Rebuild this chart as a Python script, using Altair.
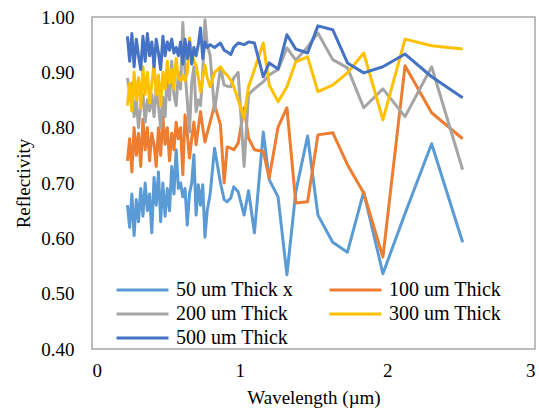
import altair as alt
import pandas as pd

wavelength = [0.24, 0.255, 0.27, 0.285, 0.30, 0.315, 0.33, 0.345, 0.36, 0.375, 0.39, 0.405, 0.42,
              0.435, 0.45, 0.465, 0.48, 0.495, 0.51, 0.525, 0.54, 0.555, 0.57, 0.585, 0.60, 0.615,
              0.63, 0.645, 0.66, 0.675, 0.69, 0.705, 0.72, 0.735, 0.75, 0.765, 0.78,
              0.80, 0.83, 0.87, 0.895, 0.915,
              0.94, 0.96, 0.99, 1.03, 1.06, 1.10, 1.16, 1.20, 1.26, 1.32, 1.38, 1.46, 1.53, 1.63,
              1.73, 1.84, 1.97, 2.12, 2.30, 2.51]

thick_50 = [0.66, 0.62, 0.68, 0.605, 0.67, 0.63, 0.69, 0.64, 0.70, 0.65, 0.68, 0.61, 0.71, 0.66,
            0.72, 0.63, 0.70, 0.64, 0.69, 0.65, 0.73, 0.68, 0.76, 0.69, 0.70, 0.675, 0.69, 0.624,
            0.68, 0.70, 0.751, 0.642, 0.697, 0.66, 0.697, 0.602, 0.65,
            0.68, 0.763, 0.70, 0.67, 0.666,
            0.673, 0.693, 0.684, 0.642, 0.686, 0.610, 0.792, 0.706, 0.675, 0.534, 0.684, 0.785,
            0.642, 0.593, 0.575, 0.684, 0.536, 0.645, 0.771, 0.593]

thick_100 = [0.74, 0.78, 0.72, 0.80, 0.75, 0.79, 0.73, 0.815, 0.76, 0.80, 0.74, 0.79, 0.77, 0.73,
             0.80, 0.75, 0.82, 0.77, 0.80, 0.74, 0.79, 0.76, 0.81, 0.78, 0.80, 0.715, 0.823, 0.79,
             0.745, 0.78, 0.81, 0.769, 0.80, 0.829, 0.80, 0.774, 0.79,
             0.81, 0.841, 0.805, 0.70, 0.765,
             0.763, 0.76, 0.772, 0.836, 0.781, 0.76, 0.757, 0.709, 0.801, 0.836, 0.664, 0.666,
             0.787, 0.791, 0.733, 0.682, 0.566, 0.912, 0.827, 0.78]

thick_200 = [0.89, 0.865, 0.88, 0.82, 0.85, 0.80, 0.84, 0.86, 0.81, 0.85, 0.83, 0.86, 0.82, 0.87,
             0.84, 0.80, 0.855, 0.82, 0.90, 0.85, 0.92, 0.86, 0.84, 0.90, 0.87, 0.99, 0.90, 0.85,
             0.792, 0.88, 0.91, 0.829, 0.85, 0.84, 0.90, 0.995, 0.95,
             0.93, 0.83, 0.908, 0.877, 0.875,
             0.874, 0.89, 0.90, 0.73, 0.86, 0.87, 0.883, 0.895, 0.905, 0.944, 0.922, 0.946,
             0.971, 0.923, 0.908, 0.836, 0.87, 0.82, 0.91, 0.724]

thick_300 = [0.84, 0.88, 0.83, 0.90, 0.85, 0.89, 0.835, 0.91, 0.86, 0.90, 0.845, 0.88, 0.915, 0.86,
             0.895, 0.84, 0.90, 0.87, 0.92, 0.88, 0.905, 0.87, 0.925, 0.89, 0.885, 0.895, 0.885,
             0.90, 0.962, 0.935, 0.92, 0.913, 0.89, 0.865, 0.89, 0.913, 0.89,
             0.874, 0.90, 0.91, 0.90, 0.895,
             0.886, 0.874, 0.85, 0.818, 0.874, 0.905, 0.953, 0.877, 0.847, 0.874, 0.919, 0.928,
             0.865, 0.877, 0.899, 0.935, 0.814, 0.96, 0.948, 0.942]

thick_500 = [0.965, 0.92, 0.97, 0.91, 0.96, 0.93, 0.905, 0.965, 0.92, 0.97, 0.93, 0.955, 0.91, 0.96,
             0.935, 0.905, 0.965, 0.93, 0.955, 0.94, 0.96, 0.935, 0.945, 0.93, 0.955, 0.915, 0.96,
             0.925, 0.955, 0.915, 0.945, 0.93, 0.95, 0.98, 0.925, 0.955, 0.945,
             0.95, 0.945, 0.953, 0.94, 0.937,
             0.932, 0.945, 0.953, 0.95, 0.955, 0.953, 0.892, 0.917, 0.906, 0.968, 0.942, 0.935,
             0.984, 0.977, 0.917, 0.899, 0.91, 0.933, 0.892, 0.854]

series_names = ["50 um Thick x", "100 um Thick", "200 um Thick", "300 um Thick", "500 um Thick"]
series_values = [thick_50, thick_100, thick_200, thick_300, thick_500]
series_colors = ["#5B9BD5", "#ED7D31", "#A5A5A5", "#FFC000", "#4472C4"]

rows = []
for name, vals in zip(series_names, series_values):
    for i, (w, v) in enumerate(zip(wavelength, vals)):
        rows.append({"Wavelength": w, "Reflectivity": v, "Series": name, "idx": i})
df = pd.DataFrame(rows)

FONT = "Liberation Serif"

chart = alt.Chart(df).mark_line(strokeWidth=3, strokeJoin="round").encode(
    x=alt.X("Wavelength:Q",
            scale=alt.Scale(domain=[0, 3], nice=False),
            axis=alt.Axis(title="Wavelength (µm)", values=[0, 1, 2, 3], format="d",
                          ticks=False, grid=False, domain=False, labelPadding=12,
                          titlePadding=8)),
    y=alt.Y("Reflectivity:Q",
            scale=alt.Scale(domain=[0.4, 1.0], nice=False, zero=False),
            axis=alt.Axis(title="Reflectivity", values=[0.4, 0.5, 0.6, 0.7, 0.8, 0.9, 1.0],
                          format=".2f", ticks=False, grid=False, domain=False,
                          labelPadding=18, titlePadding=7)),
    color=alt.Color("Series:N",
                    scale=alt.Scale(domain=series_names, range=series_colors),
                    legend=alt.Legend(title=None, orient="none", legendX=23, legendY=263,
                                      direction="horizontal",
                                      columns=2, symbolType="stroke", symbolSize=2700,
                                      symbolStrokeWidth=3, clipHeight=20, rowPadding=4,
                                      columnPadding=34, labelOffset=6, padding=0,
                                      labelFont=FONT, labelFontSize=20, labelColor="black")),
    order=alt.Order("idx:Q"),
).properties(
    width=443, height=332,
    background="white",
    autosize=alt.AutoSizeParams(type="none"),
    padding={"left": 92, "top": 17, "right": 4, "bottom": 70},
).configure_view(
    stroke="#A6A6A6", strokeWidth=1.5
).configure_axis(
    labelFont=FONT, labelFontSize=19, labelColor="black",
    titleFont=FONT, titleFontSize=19, titleColor="black", titleFontWeight="normal"
)

chart.save("out.html", embed_options={"renderer": "svg", "actions": False})
